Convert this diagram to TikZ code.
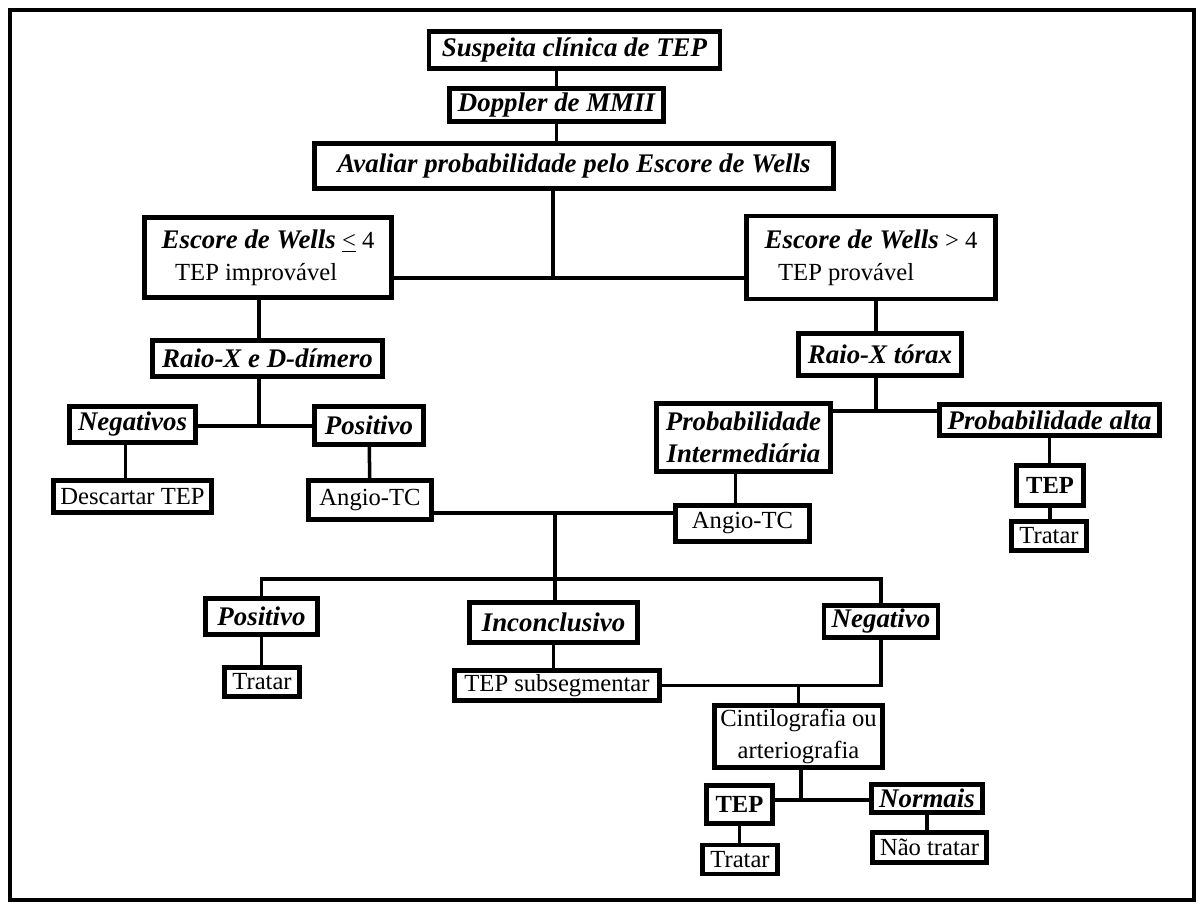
\documentclass[tikz,border=0pt]{standalone}
\usepackage{fontspec}
\setmainfont{Liberation Serif}
\usetikzlibrary{positioning}
\usetikzlibrary{calc}

\newcommand{\fntbi}{\fontsize{15.3}{18}\selectfont\bfseries\itshape}
\newcommand{\fntreg}{\fontsize{14}{18}\selectfont}
\newcommand{\fntbf}{\fontsize{14}{18}\selectfont\bfseries}

\tikzset{
	box/.style={draw, rectangle, line width=2.4pt, inner sep=0pt, align=center, font=\fntreg},
	link/.style={line width=2pt},
}

\begin{document}
\begin{tikzpicture}[x=0.02cm, y=-0.02cm]

	\def\px{0.02cm}
	\useasboundingbox (0,0) rectangle (1203,905);
	\draw [line width=2.2pt] (10,10) rectangle (1194,900);

	% top chain
	\node [box, font=\fntbi, minimum width=291*\px, minimum height=37*\px] at (574.5,50) (susp){Suspeita clínica de TEP};
	\node [box, font=\fntbi, minimum width=214*\px, minimum height=33*\px] at (556.5,105) (doppler){Doppler de MMII};
	\node [box, font=\fntbi, minimum width=519*\px, minimum height=45*\px] at (574,166) (avaliar){Avaliar probabilidade pelo Escore de Wells};
	\draw [link] (doppler.north) -- (doppler.north |- susp.south);
	\draw [link] (doppler.south) -- (doppler.south |- avaliar.north);

	% Wells score
	\node [box, align=left, minimum width=247*\px, minimum height=80*\px] at (268,257.5) (wellsL){{\fntbi Escore de Wells} \underline{<} 4 \\ \hspace*{0.55em}TEP improvável};
	\node [box, align=left, minimum width=249*\px, minimum height=83*\px] at (871,257.5) (wellsR){{\fntbi Escore de Wells} > 4 \\ \hspace*{0.55em}TEP provável};
	\coordinate (j1) at (553,278);
	\draw [link] (avaliar.south -| j1) -- (j1);
	\draw [link] (wellsL.east |- j1) -- (wellsR.west |- j1);

	% left branch
	\node [box, font=\fntbi, minimum width=230*\px, minimum height=36*\px] at (267.5,358.5) (rxd){Raio-X e D-dímero};
	\node [box, font=\fntbi, minimum width=126*\px, minimum height=36*\px] at (132.5,424.5) (negs){Negativos};
	\node [box, font=\fntbi, minimum width=109*\px, minimum height=38*\px] at (369,425.5) (posA){Positivo};
	\node [box, minimum width=158*\px, minimum height=32*\px] at (132.5,496.5) (descartar){Descartar TEP};
	\node [box, minimum width=123*\px, minimum height=39*\px] at (370,500) (angioA){Angio-TC};
	\coordinate (j2) at (259,426);
	\draw [link] (wellsL.south -| j2) -- (rxd.north -| j2);
	\draw [link] (rxd.south -| j2) -- (j2);
	\draw [link] (negs.east |- j2) -- (posA.west |- j2);
	\draw [link] ([xshift=-7*\px]negs.south) -- ([xshift=-7*\px]negs.south |- descartar.north);
	\draw [link] (posA) -- (angioA);

	% right branch
	\node [box, font=\fntbi, minimum width=163*\px, minimum height=42*\px] at (880,354.5) (rxt){Raio-X tórax};
	\node [box, font=\fntbi, minimum width=174*\px, minimum height=68*\px] at (743.5,437.5) (probI){Probabilidade\\Intermediária};
	\node [box, font=\fntbi, minimum width=220*\px, minimum height=31*\px] at (1049.5,420) (probA){Probabilidade alta};
	\node [box, font=\fntbf, minimum width=67*\px, minimum height=40*\px] at (1050,485.5) (tepA){TEP};
	\node [box, minimum width=134*\px, minimum height=36*\px] at (742.5,523.5) (angioB){Angio-TC};
	\coordinate (j3) at (876,411);
	\draw [link] (wellsR.south -| j3) -- (rxt.north -| j3);
	\draw [link] (rxt.south -| j3) -- (j3);
	\draw [link] (probI.east |- j3) -- (probA.west |- j3);
	\draw [link] (probA.south) -- (probA.south |- tepA.north);
	\draw [link] ([xshift=-8*\px]probI.south) -- ([xshift=-8*\px]probI.south |- angioB.north);

	% outcomes of angio-TC
	\node [box, font=\fntbi, minimum width=112*\px, minimum height=36*\px] at (261.5,616.5) (posB){Positivo};
	\node [box, font=\fntbi, minimum width=168*\px, minimum height=40*\px] at (553.5,622.5) (incon){Inconclusivo};
	\node [box, font=\fntbi, minimum width=114*\px, minimum height=32*\px] at (881,621.5) (negB){Negativo};
	\node [box, minimum width=205*\px, minimum height=30*\px] at (557,685.5) (tepsub){TEP subsegmentar};
	\node [box, minimum width=168*\px, minimum height=62*\px] at (798.5,736.5) (cint){Cintilografia ou\\arteriografia};
	\coordinate (j4) at (555,513);
	\coordinate (j5) at (555,579);
	\draw [link] (angioA.east |- j4) -- (angioB.west |- j4);
	\draw [link] (j4) -- (incon.north -| j4);
	\draw [link] (posB.north) |- (j5) -| (negB.north);
	\draw [link] (incon) -- (incon.south |- tepsub.north);
	\draw [link] (tepsub.east) -| (negB.south);
	\draw [link] (cint.north) -- (cint.north |- tepsub.east);

	% scintigraphy
	\node [box, font=\fntbf, minimum width=66*\px, minimum height=38*\px] at (739.5,804.5) (tepB){TEP};
	\node [box, font=\fntbi, minimum width=111*\px, minimum height=28*\px] at (927,798.5) (normais){Normais};
	\node [box, minimum width=114*\px, minimum height=30*\px] at (929.5,847.5) (naotratar){Não tratar};
	\coordinate (j6) at (801,800);
	\draw [link] (cint.south -| j6) -- (j6);
	\draw [link] (tepB.east |- j6) -- (normais.west |- j6);
	\draw [link] (normais.south) -- (normais.south |- naotratar.north);

	% treat boxes
	\foreach \name/\x/\y/\top in {tratarA/1049/536/tepA, tratarB/262/682/posB, tratarC/740/859.5/tepB}
	{
		\node [box, minimum width=75*\px, minimum height=29*\px] at (\x,\y) (\name){Tratar};
		\draw [link] (\top.south) -- (\top.south |- \name.north);
	}

\end{tikzpicture}
\end{document}
